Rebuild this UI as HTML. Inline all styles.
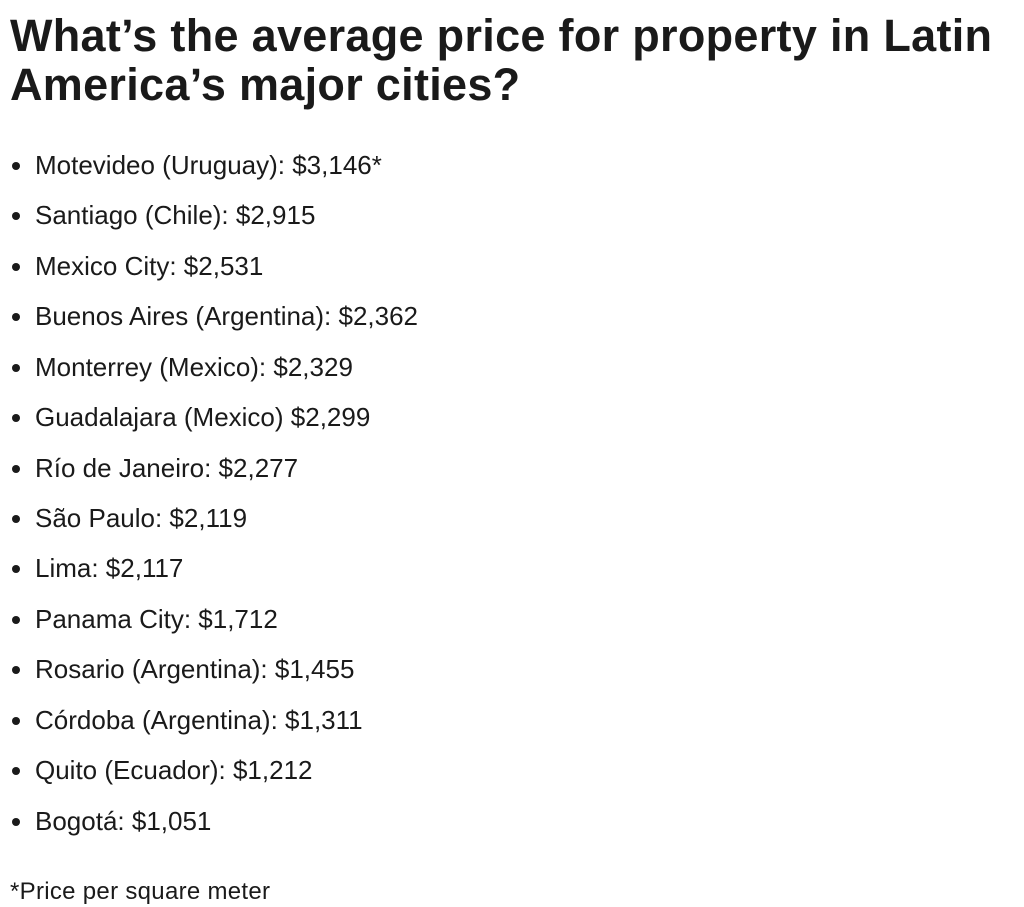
<!DOCTYPE html>
<html><head><meta charset="utf-8"><style>
body{margin:0;width:1024px;height:906px;background:#fff;color:#1a1a1a;font-family:"Liberation Sans",sans-serif;position:relative;overflow:hidden}
.t{position:absolute;left:10px;font-weight:bold;font-size:45px;line-height:48px;white-space:nowrap;letter-spacing:0.3px}
.li{position:absolute;left:35px;font-size:26px;line-height:30px;white-space:nowrap;transform:translateY(-50%)}
.li:before{content:"";position:absolute;left:-23px;top:12px;width:8px;height:8px;border-radius:50%;background:#1a1a1a}
.f{position:absolute;left:10px;top:877px;font-size:24px;line-height:30px;letter-spacing:0.3px}
</style></head><body>
<div class="t" style="top:12px">What’s the average price for property in Latin</div>
<div class="t" style="top:61px">America’s major cities?</div>
<div class="li" style="top:165px">Motevideo (Uruguay): $3,146*</div>
<div class="li" style="top:215px">Santiago (Chile): $2,915</div>
<div class="li" style="top:266px">Mexico City: $2,531</div>
<div class="li" style="top:316px">Buenos Aires (Argentina): $2,362</div>
<div class="li" style="top:367px">Monterrey (Mexico): $2,329</div>
<div class="li" style="top:417px">Guadalajara (Mexico) $2,299</div>
<div class="li" style="top:468px">Río de Janeiro: $2,277</div>
<div class="li" style="top:518px">São Paulo: $2,119</div>
<div class="li" style="top:568px">Lima: $2,117</div>
<div class="li" style="top:619px">Panama City: $1,712</div>
<div class="li" style="top:669px">Rosario (Argentina): $1,455</div>
<div class="li" style="top:720px">Córdoba (Argentina): $1,311</div>
<div class="li" style="top:770px">Quito (Ecuador): $1,212</div>
<div class="li" style="top:821px">Bogotá: $1,051</div>
<div class="f">*Price per square meter</div>
</body></html>
